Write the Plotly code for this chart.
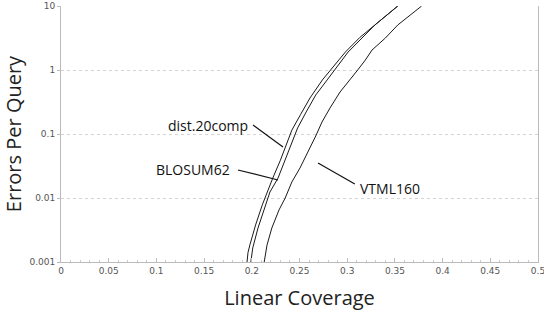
import numpy as np
import plotly.graph_objects as go

# ---- data ----
dist_x = [0.195, 0.196, 0.198, 0.204, 0.211, 0.217, 0.222, 0.230, 0.235, 0.242, 0.251,
          0.261, 0.274, 0.284, 0.298, 0.313, 0.329, 0.343, 0.353]
dist_y = [0.001, 0.0014, 0.00185, 0.0038, 0.0078, 0.0133, 0.0205, 0.039, 0.063, 0.115, 0.20,
          0.365, 0.70, 1.07, 1.9, 3.2, 5.0, 7.5, 10]

blosum_x = [0.199, 0.201, 0.2065, 0.214, 0.219, 0.2275, 0.235, 0.242, 0.248, 0.257, 0.267,
            0.279, 0.288, 0.301, 0.3155, 0.329, 0.343, 0.353]
blosum_y = [0.001, 0.00166, 0.0034, 0.0078, 0.0124, 0.0205, 0.039, 0.075, 0.124, 0.221, 0.406,
            0.70, 1.07, 1.91, 3.16, 5.05, 7.5, 10]

vtml_x = [0.213, 0.216, 0.221, 0.2285, 0.235, 0.242, 0.2505, 0.259, 0.267, 0.2736, 0.282,
          0.2925, 0.303, 0.311, 0.319, 0.326, 0.340, 0.353, 0.366, 0.378]
vtml_y = [0.001, 0.00185, 0.0034, 0.0065, 0.01, 0.0178, 0.0294, 0.0523, 0.093, 0.154, 0.255,
          0.453, 0.70, 1.0, 1.43, 2.05, 3.16, 5.05, 7.2, 10]

x_ticks = [0, 0.05, 0.1, 0.15, 0.2, 0.25, 0.3, 0.35, 0.4, 0.45, 0.5]
x_ticktext = ["0", "0.05", "0.1", "0.15", "0.2", "0.25", "0.3", "0.35", "0.4", "0.45", "0.5"]
y_ticks = [0.001, 0.01, 0.1, 1, 10]
y_ticktext = ["0.001", "0.01", "0.1", "1", "10"]

# series labels and their leader lines
label_names = ["dist.20comp", "BLOSUM62", "VTML160"]
label_text_x = [0.198, 0.179, 0.311]
label_text_y = [0.138, 0.0274, 0.0143]
leader_x0 = [0.2013, 0.1855, 0.2694]
leader_y0 = [0.138, 0.0274, 0.0352]
leader_x1 = [0.2327, 0.2275, 0.308]
leader_y1 = [0.0626, 0.0191, 0.0166]

line_color = "#1a1a1a"
fig = go.Figure()
for xs, ys in [(dist_x, dist_y), (blosum_x, blosum_y), (vtml_x, vtml_y)]:
    fig.add_trace(go.Scatter(x=xs, y=ys, mode="lines", line=dict(color=line_color, width=1),
                             hoverinfo="skip"))

for i in range(3):
    fig.add_trace(go.Scatter(x=[leader_x0[i], leader_x1[i]], y=[leader_y0[i], leader_y1[i]],
                             mode="lines", line=dict(color="#111", width=1.2), hoverinfo="skip"))
    fig.add_annotation(x=label_text_x[i], y=np.log10(label_text_y[i]), xref="x", yref="y",
                       text=label_names[i], showarrow=False,
                       xanchor="left" if i == 2 else "right", yanchor="middle",
                       font=dict(family="Open Sans", size=14, color="#111"))

fig.update_layout(
    width=544, height=324,
    margin=dict(l=61, r=6, t=6, b=62),
    plot_bgcolor="white", paper_bgcolor="white",
    showlegend=False,
    xaxis=dict(range=[0, 0.5], tickvals=x_ticks, ticktext=x_ticktext, automargin=False,
               ticklabeloverflow="allow",
               showgrid=False, zeroline=False, showline=True, linecolor="#bbbbbb",
               ticks="inside", ticklen=4, tickcolor="#bbbbbb",
               minor=dict(dtick=0.01, ticks="inside", ticklen=2, tickcolor="#cccccc"),
               tickfont=dict(family="DejaVu Sans", size=9, color="#555555"),
               title=dict(text="Linear Coverage", standoff=16,
                          font=dict(family="Open Sans", size=20, color="#222222"))),
    yaxis=dict(type="log", range=[-3, 1], tickvals=y_ticks, ticktext=y_ticktext, automargin=False,
               showgrid=True, gridcolor="#d4d4d4", griddash="dot", gridwidth=1,
               showline=True, linecolor="#bbbbbb", mirror=True,
               ticks="outside", ticklen=3, tickcolor="#bbbbbb",
               tickfont=dict(family="DejaVu Sans", size=9, color="#555555"),
               title=dict(text="Errors Per Query", standoff=2,
                          font=dict(family="Open Sans", size=20, color="#222222"))),
)

fig.write_html("out.html", config={"displayModeBar": False},
               post_script="document.body.style.margin='0';document.body.style.overflow='hidden';")
